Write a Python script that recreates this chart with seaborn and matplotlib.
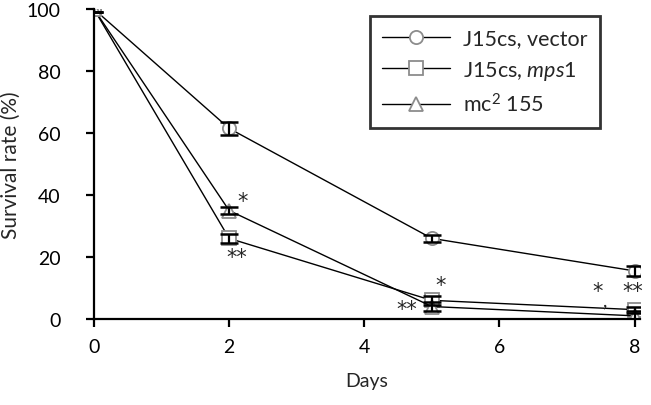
import numpy as np
import pandas as pd
import matplotlib
matplotlib.use("Agg")
import matplotlib.pyplot as plt
import seaborn as sns

days = [0, 2, 5, 8]
strains = ["J15cs, vector", "J15cs, $\\it{mps1}$", "mc$^2$ 155"]
vector = [100, 61.5, 26, 15.5]
vector_err = [0.8, 2.0, 1.2, 1.5]
mps1 = [100, 26, 6, 3]
mps1_err = [0.8, 1.5, 1.5, 1.0]
mc2 = [100, 35, 4, 1]
mc2_err = [0.8, 1.0, 1.5, 1.5]

sns.set_style("white")
plt.rcParams['font.family'] = ['Lato', 'DejaVu Sans']
plt.rcParams['mathtext.fontset'] = 'custom'
plt.rcParams['mathtext.rm'] = 'Lato'
plt.rcParams['mathtext.it'] = 'Lato:italic'

df = pd.DataFrame({
    'day': days * 3,
    'rate': vector + mps1 + mc2,
    'err': vector_err + mps1_err + mc2_err,
    'strain': [s for s in strains for _ in days],
})

fig = plt.figure(figsize=(6.51, 4.06), dpi=100)
ax = fig.add_axes([0.1444, 0.212, 0.8386, 0.763])

markers = dict(zip(strains, ['o', 's', '^']))
sns.lineplot(data=df, x='day', y='rate', hue='strain', style='strain',
             palette=['black'] * 3, markers=markers, dashes=False,
             markersize=9.5, markerfacecolor='white', markeredgecolor='#8c8c8c',
             markeredgewidth=1.3, linewidth=1.0, ax=ax)

for s in strains:
    sub = df[df['strain'] == s]
    ax.errorbar(sub['day'], sub['rate'], yerr=sub['err'], fmt='none',
                ecolor='black', elinewidth=1.6, capsize=6.5, capthick=1.8, zorder=5)

# significance marks
stars = [(2.2, 38, '*'), (2.12, 20, '**'), (5.13, 11, '*'), (4.63, 3.2, '**'),
         (7.45, 9, '*'), (7.97, 9, '**')]
for x, y, t in stars:
    ax.text(x, y, t, ha='center', va='center', fontsize=15, family='DejaVu Sans')
ax.text(7.57, 6.0, ',', ha='center', va='center', fontsize=14)

ax.set_xlim(0, 8.08)
ax.set_ylim(0, 100)
ax.set_xticks([0, 2, 4, 6, 8])
ax.set_yticks([0, 20, 40, 60, 80, 100])
ax.set_xlabel('Days', fontsize=14, labelpad=12)
ax.set_ylabel('Survival rate (%)', fontsize=15, labelpad=4)
ax.tick_params(axis='both', labelsize=14, direction='out', length=6, width=1.6,
               left=True, bottom=True, colors='black')
ax.tick_params(axis='x', pad=8)
ax.tick_params(axis='y', pad=18)
sns.despine(ax=ax)
for sp in ['left', 'bottom']:
    ax.spines[sp].set_linewidth(1.6)
    ax.spines[sp].set_color('black')

leg = ax.legend(loc='upper left', bbox_to_anchor=(0.505, 0.977), frameon=True,
                fancybox=False, fontsize=15.5, handlelength=3.2, borderpad=0.55,
                labelspacing=0.5, handletextpad=0.6, borderaxespad=0)
leg.get_frame().set_edgecolor('black')
leg.get_frame().set_linewidth(2.0)

fig.savefig('out.png', dpi=100)
